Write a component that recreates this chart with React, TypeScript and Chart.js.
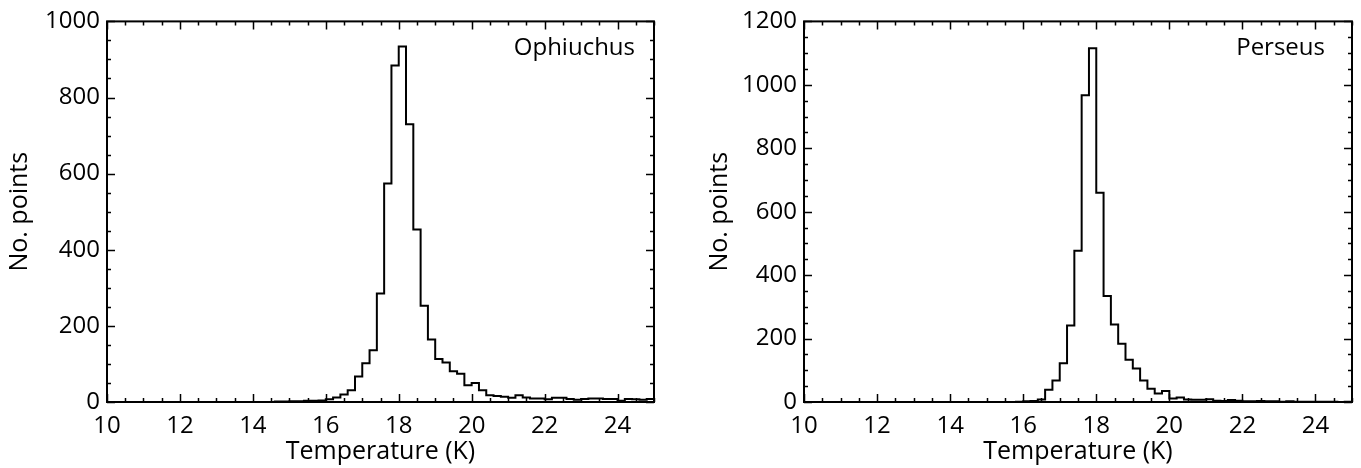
import React, { useEffect, useRef } from 'react';
import { Chart, registerables } from 'chart.js';

Chart.register(...registerables);

// ---- data ----
const X_MIN = 10;
const X_MAX = 25;
const BIN_WIDTH = 0.2;

const xTickValues = [10, 12, 14, 16, 18, 20, 22, 24];
const ophiuchusYTicks = [0, 200, 400, 600, 800, 1000];
const perseusYTicks = [0, 200, 400, 600, 800, 1000, 1200];

// counts per 0.2 K bin, bins starting at 10.0, 10.2, ..., 24.8
const ophiuchusCounts = [
  0, 0, 0, 0, 0, 0, 0, 0, 0, 0, // 10.0 - 11.8
  0, 0, 0, 0, 0, 0, 0, 0, 0, 0, // 12.0 - 13.8
  0, 0, 0, 1, 1, 2, 2, 3, 3, 4, // 14.0 - 15.8
  7, 12, 20, 31, 67, 102, 136, 285, 574, 884, // 16.0 - 17.8
  934, 730, 453, 253, 164, 113, 104, 81, 74, 44, // 18.0 - 19.8
  50, 31, 18, 16, 14, 11, 18, 12, 9, 9, // 20.0 - 21.8
  7, 11, 11, 8, 6, 8, 9, 9, 8, 8, // 22.0 - 23.8
  3, 8, 7, 6, 8, // 24.0 - 24.8
];

const perseusCounts = [
  0, 0, 0, 0, 0, 0, 0, 0, 0, 0, // 10.0 - 11.8
  0, 0, 0, 0, 0, 0, 0, 0, 0, 0, // 12.0 - 13.8
  0, 0, 0, 0, 0, 0, 0, 0, 0, 1, // 14.0 - 15.8
  2, 3, 8, 39, 68, 122, 241, 477, 967, 1115, // 16.0 - 17.8
  660, 334, 244, 184, 133, 106, 68, 42, 27, 35, // 18.0 - 19.8
  11, 14, 8, 7, 7, 9, 4, 3, 6, 4, // 20.0 - 21.8
  2, 2, 3, 2, 2, 1, 2, 1, 1, 1, // 22.0 - 23.8
  1, 1, 1, 0, 1, // 24.0 - 24.8
];

const xTitle = 'Temperature (K)';
const yTitle = 'No. points';

const FONT = "'Open Sans', sans-serif";

const framePlugin = {
  id: 'frame',
  afterDatasetsDraw(chart: any, _args: any, opts: any) {
    const { ctx, chartArea } = chart;
    const { left, right, top, bottom } = chartArea;
    const xs = chart.scales.x;
    const ys = chart.scales.y;
    ctx.save();
    ctx.strokeStyle = '#000';
    ctx.lineWidth = 2;
    ctx.strokeRect(left, top, right - left, bottom - top);
    ctx.lineWidth = 1.5;
    ctx.beginPath();
    // x ticks (minor every 0.5, major every 2)
    for (let i = 0; i <= (X_MAX - X_MIN) * 2; i++) {
      const v = X_MIN + i * 0.5;
      const px = Math.round(xs.getPixelForValue(v)) + 0.5;
      const major = i % 4 === 0;
      const len = major ? 8 : 4;
      ctx.moveTo(px, bottom);
      ctx.lineTo(px, bottom - len);
      ctx.moveTo(px, top);
      ctx.lineTo(px, top + len);
    }
    const yMax = ys.max;
    for (let v = 0; v <= yMax + 1e-6; v += 50) {
      const py = Math.round(ys.getPixelForValue(v)) + 0.5;
      const major = v % 200 === 0;
      const len = major ? 8 : 4;
      ctx.moveTo(left, py);
      ctx.lineTo(left + len, py);
      ctx.moveTo(right, py);
      ctx.lineTo(right - len, py);
    }
    ctx.stroke();
    // region label
    ctx.fillStyle = '#000';
    ctx.font = `24px ${FONT}`;
    ctx.textAlign = 'right';
    ctx.textBaseline = 'alphabetic';
    ctx.fillText(opts.label, right - opts.labelRightGap, top + opts.labelBaseline);
    ctx.restore();
  },
};

type PanelProps = {
  counts: number[];
  yTicks: number[];
  yMax: number;
  label: string;
  left: number;
  width: number;
  yAxisWidth: number;
  padRight: number;
  yTitlePad: number;
  labelRightGap: number;
};

function Panel(p: PanelProps) {
  const ref = useRef<HTMLCanvasElement | null>(null);
  useEffect(() => {
    if (!ref.current) return;
    const binStarts = p.counts.map((_, i) => X_MIN + i * BIN_WIDTH);
    const pts = binStarts.map((x, i) => ({ x, y: p.counts[i] }));
    pts.push({ x: X_MAX, y: p.counts[p.counts.length - 1] });
    const chart = new Chart(ref.current, {
      type: 'line',
      data: {
        datasets: [
          {
            data: pts,
            stepped: true,
            borderColor: '#000',
            borderWidth: 2,
            pointRadius: 0,
            fill: false,
          } as any,
        ],
      },
      options: {
        animation: false,
        responsive: false,
        devicePixelRatio: 1,
        color: '#000',
        font: { family: FONT, size: 24 },
        layout: { padding: { top: 15, right: p.padRight, bottom: 0, left: 0 } },
        plugins: {
          legend: { display: false },
          tooltip: { enabled: false },
          frame: { label: p.label, labelRightGap: p.labelRightGap, labelBaseline: 34 },
        } as any,
        scales: {
          x: {
            type: 'linear',
            min: X_MIN,
            max: X_MAX,
            grid: { display: false, drawTicks: false },
            border: { display: false },
            afterBuildTicks: (s: any) => {
              s.ticks = xTickValues.map((v) => ({ value: v }));
            },
            afterFit: (s: any) => {
              s.height = 66;
            },
            ticks: {
              color: '#000',
              padding: 10,
              maxRotation: 0,
              autoSkip: false,
              font: { family: FONT, size: 24 },
              callback: (v: any) => String(v),
            },
            title: {
              display: true,
              text: xTitle,
              color: '#000',
              font: { family: FONT, size: 25 },
              padding: { top: 0, bottom: 1 },
            },
          },
          y: {
            type: 'linear',
            min: 0,
            max: p.yMax,
            grid: { display: false, drawTicks: false },
            border: { display: false },
            afterBuildTicks: (s: any) => {
              s.ticks = p.yTicks.map((v) => ({ value: v }));
            },
            afterFit: (s: any) => {
              s.width = p.yAxisWidth;
            },
            ticks: {
              color: '#000',
              padding: 7,
              autoSkip: false,
              font: { family: FONT, size: 24 },
              callback: (v: any) => String(v),
            },
            title: {
              display: true,
              text: yTitle,
              color: '#000',
              font: { family: FONT, size: 25 },
              padding: { top: p.yTitlePad, bottom: 0 },
            },
          },
        },
      },
      plugins: [framePlugin],
    });
    return () => chart.destroy();
  }, []);
  return (
    <canvas
      ref={ref}
      width={p.width}
      height={468}
      style={{ position: 'absolute', left: p.left, top: 0, width: p.width, height: 468, display: 'block' }}
    />
  );
}

export default function App() {
  return (
    <div style={{ position: 'fixed', left: 0, top: 0, width: 1361, height: 468, background: '#fff' }}>
      <Panel
        counts={ophiuchusCounts}
        yTicks={ophiuchusYTicks}
        yMax={1000}
        label="Ophiuchus"
        left={0}
        width={681}
        yAxisWidth={107}
        padRight={27}
        yTitlePad={5}
        labelRightGap={19}
      />
      <Panel
        counts={perseusCounts}
        yTicks={perseusYTicks}
        yMax={1200}
        label="Perseus"
        left={681}
        width={680}
        yAxisWidth={123}
        padRight={9}
        yTitlePad={24}
        labelRightGap={27}
      />
    </div>
  );
}
